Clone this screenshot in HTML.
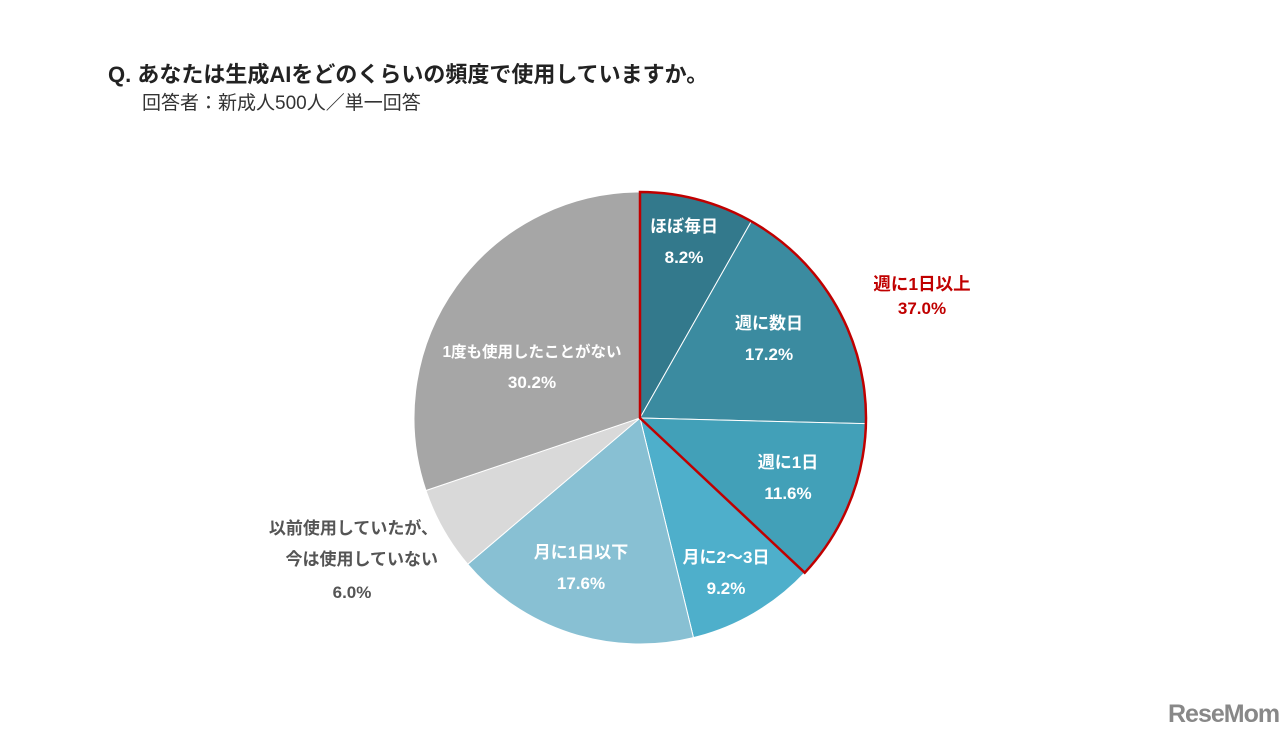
<!DOCTYPE html>
<html><head><meta charset="utf-8">
<style>
body{margin:0;background:#fff;font-family:"Liberation Sans","Noto Sans CJK JP",sans-serif;}
#wrap{position:relative;width:1280px;height:739px;overflow:hidden;}
.t{position:absolute;white-space:nowrap;}
</style></head>
<body>
<div id="wrap">
<div class="t" style="left:108px;top:57px;font-size:22px;font-weight:bold;color:#222;">Q. あなたは生成AIをどのくらいの頻度で使用していますか。</div>
<div class="t" style="left:142px;top:88px;font-size:19px;color:#333;">回答者：新成人500人／単一回答</div>
<svg id="pie" width="1280" height="739" style="position:absolute;left:0;top:0"></svg>
<div class="t" style="left:1168px;top:700px;font-size:25px;font-weight:bold;color:#888;letter-spacing:-1px;">ReseMom</div>
</div>
<script>
const categories=["ほぼ毎日","週に数日","週に1日","月に2〜3日","月に1日以下","以前使用していたが、\n今は使用していない","1度も使用したことがない"];
const values=[8.2,17.2,11.6,9.2,17.6,6.0,30.2];
const colors=["#33798c","#3b8ba0","#42a0b8","#4eafcb","#88c0d3","#d9d9d9","#a6a6a6"];
const highlightLabel="週に1日以上";
const highlightValue=37.0;
const highlightCount=3;
const labelPos=[[684,232,"#fff",17],[769,329,"#fff",17],[788,468,"#fff",17],[726,563,"#fff",17],[581,558,"#fff",17],[438,534,"#555",17],[532,357,"#fff",15.5]];
const cx=640,cy=418,r=226;
const NS="http://www.w3.org/2000/svg";
const svg=document.getElementById('pie');
const total=values.reduce((a,b)=>a+b,0);
function pt(a,rr){return [cx+rr*Math.sin(a),cy-rr*Math.cos(a)];}
function arc(a0,a1){const p0=pt(a0,r),p1=pt(a1,r);const l=(a1-a0)>Math.PI?1:0;
return `M${cx},${cy}L${p0[0]},${p0[1]}A${r},${r} 0 ${l} 1 ${p1[0]},${p1[1]}Z`;}
let a=0;
values.forEach((v,i)=>{const a1=a+v/total*2*Math.PI;
const p=document.createElementNS(NS,'path');p.setAttribute('d',arc(a,a1));p.setAttribute('fill',colors[i]);p.setAttribute('stroke','#fff');p.setAttribute('stroke-width','1');


svg.appendChild(p);a=a1;});
let hs=0;for(let i=0;i<highlightCount;i++)hs+=values[i];
const hp=document.createElementNS(NS,'path');hp.setAttribute('d',arc(0,hs/total*2*Math.PI));hp.setAttribute('fill','none');hp.setAttribute('stroke','#c00000');hp.setAttribute('stroke-width','2.5');


svg.appendChild(hp);
function txt(x,y,s,c,sz,anchor,w){const t=document.createElementNS(NS,'text');t.setAttribute('x',x);t.setAttribute('y',y);t.setAttribute('fill',c);t.setAttribute('font-size',sz);t.setAttribute('font-weight',w||'bold');t.setAttribute('text-anchor',anchor||'middle');t.textContent=s;svg.appendChild(t);return t;}
categories.forEach((c,i)=>{const [x,y,col,sz]=labelPos[i];const lines=c.split('\n');
lines.forEach((ln,j)=>{const t=txt(x,y+j*31,ln,col,sz,i===5?'end':'middle');

});
const t2=txt(i===5?x-86:x,y+lines.length*31+(i===5?2:0),values[i].toFixed(1)+'%',col,17,'middle');

});
const h1=txt(922,290,highlightLabel,'#c00000',17.5);


const h2=txt(922,314,highlightValue.toFixed(1)+'%','#c00000',17);


</script>
</body></html>
